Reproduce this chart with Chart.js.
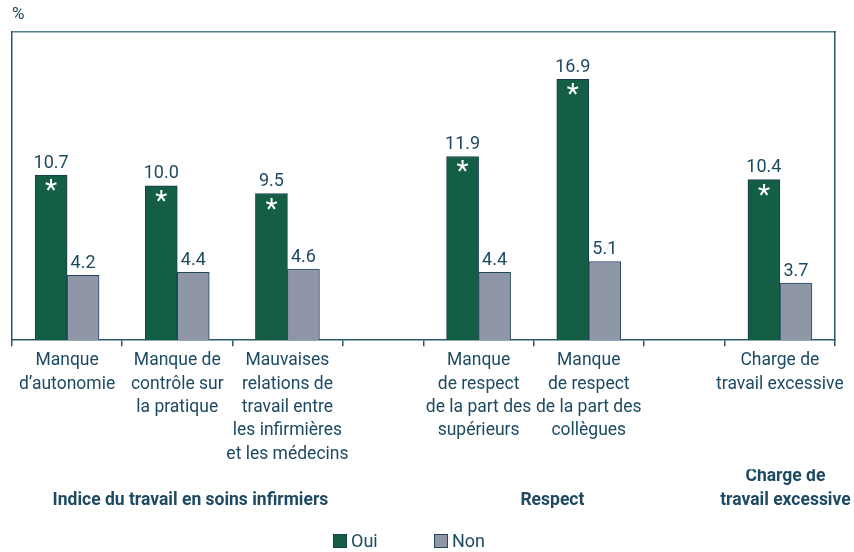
<!DOCTYPE html>
<html>
<head>
<meta charset="utf-8">
<script src="https://cdn.jsdelivr.net/npm/chart.js@4"></script>
<style>
  html, body { margin: 0; padding: 0; background: #fff; }
  canvas { display: block; }
</style>
</head>
<body>
<canvas id="chart" width="854" height="552"></canvas>
<script>
'use strict';

// ---- Data ----
const categories = [
  ['Manque', 'd\u2019autonomie'],
  ['Manque de', 'contrôle sur', 'la pratique'],
  ['Mauvaises', 'relations de', 'travail entre', 'les infirmières', 'et les médecins'],
  null,
  ['Manque', 'de respect', 'de la part des', 'supérieurs'],
  ['Manque', 'de respect', 'de la part des', 'collègues'],
  null,
  ['Charge de', 'travail excessive'],
];
const oui = [10.7, 10.0, 9.5, null, 11.9, 16.9, null, 10.4];
const non = [4.2, 4.4, 4.6, null, 4.4, 5.1, null, 3.7];
const groups = [
  ['', 'Indice du travail en soins infirmiers'],
  ['', 'Respect'],
  ['Charge de', 'travail excessive'],
];
const groupSpans = [[0, 2], [4, 5], [7, 7]];
const seriesNames = ['Oui', 'Non'];
const significant = [true, true, true, null, true, true, null, true];

// ---- Layout / style ----
const slotWidths = [1, 1, 1, 0.735, 1, 1, 0.735, 1];   // gap slots are narrower
const groupShift = [0.12, 0.17, 0.05];
const legendLeft = [333, 434];
const legendY = 541;
const FONT = "Roboto, 'Liberation Sans', sans-serif";
const COLORS = {
  green:  '#135e44',
  greenB: '#173f4c',
  grey:   '#8e96a8',
  greyB:  '#24475c',
  text:   '#1d4a62',
  axis:   '#2a586b',
  top:    '#4f7e8c',
};

const edges = [0];
slotWidths.forEach(w => edges.push(edges[edges.length - 1] + w));
const total = edges[edges.length - 1];
const centers = slotWidths.map((w, i) => edges[i] + w / 2);

const toPoints = arr => arr.map((v, i) => ({ x: centers[i], y: v, i })).filter(p => p.y !== null);

// value above each bar, white asterisk inside significant "Oui" bars
const valueLabels = {
  id: 'valueLabels',
  afterDatasetsDraw(chart) {
    const ctx = chart.ctx;
    ctx.save();
    ctx.textAlign = 'center';
    chart.data.datasets.forEach((ds, di) => {
      chart.getDatasetMeta(di).data.forEach((bar, j) => {
        const p = ds.data[j];
        ctx.fillStyle = COLORS.text;
        ctx.font = '18px ' + FONT;
        ctx.textBaseline = 'bottom';
        ctx.fillText(p.y.toFixed(1), bar.x, bar.y - 3);
        if (di === 0 && significant[p.i]) {
          ctx.fillStyle = '#ffffff';
          ctx.font = '28px ' + FONT;
          ctx.textBaseline = 'middle';
          ctx.fillText('*', bar.x, bar.y + 17);
        }
      });
    });
    ctx.restore();
  }
};

// simple bottom legend, items spaced like the original
const bottomLegend = {
  id: 'bottomLegend',
  afterDraw(chart) {
    const ctx = chart.ctx;
    ctx.save();
    ctx.font = '18px ' + FONT;
    ctx.textBaseline = 'middle';
    ctx.textAlign = 'left';
    chart.data.datasets.forEach((ds, i) => {
      const x = legendLeft[i];
      ctx.fillStyle = ds.backgroundColor;
      ctx.strokeStyle = ds.borderColor;
      ctx.lineWidth = 1;
      ctx.fillRect(x, legendY - 7, 14, 14);
      ctx.strokeRect(x + 0.5, legendY - 6.5, 13, 13);
      ctx.fillStyle = COLORS.text;
      ctx.fillText(ds.label, x + 18, legendY + 1);
    });
    ctx.restore();
  }
};

const hiddenTicks = { display: false };
const noGrid = { display: false, drawTicks: false };

new Chart(document.getElementById('chart'), {
  type: 'bar',
  data: {
    datasets: [
      {
        label: seriesNames[0],
        data: toPoints(oui),
        backgroundColor: COLORS.green,
        borderColor: COLORS.greenB,
        borderWidth: 1,
        barThickness: 32,
      },
      {
        label: seriesNames[1],
        data: toPoints(non),
        backgroundColor: COLORS.grey,
        borderColor: COLORS.greyB,
        borderWidth: 1,
        barThickness: 32,
      },
    ]
  },
  options: {
    responsive: false,
    animation: false,
    layout: { padding: { left: 12, right: 19, top: 2, bottom: 44 } },
    font: { family: FONT },
    plugins: {
      title: {
        display: true,
        text: '%',
        align: 'start',
        color: COLORS.text,
        font: { family: FONT, size: 17, weight: 'normal' },
        padding: { top: 3, bottom: 6 },
      },
      legend: { display: false },
      tooltip: { enabled: false },
    },
    scales: {
      x: {
        type: 'linear',
        position: 'bottom',
        min: 0,
        max: total,
        offset: false,
        afterBuildTicks: scale => {
          const t = edges.map(v => ({ value: v, edge: true }));
          categories.forEach((c, i) => { if (c) t.push({ value: centers[i], edge: false, idx: i }); });
          t.sort((a, b) => a.value - b.value);
          scale.ticks = t;
        },
        ticks: {
          autoSkip: false,
          maxRotation: 0,
          minRotation: 0,
          padding: 3,
          color: COLORS.text,
          font: { family: FONT, size: 17.5, lineHeight: 1.337 },
          callback: (v, i, ticks) => ticks[i].edge ? '' : categories[ticks[i].idx],
        },
        grid: {
          offset: false,
          drawOnChartArea: false,
          drawTicks: true,
          tickLength: 6,
          lineWidth: 1.5,
          color: ctx => (ctx.tick && ctx.tick.edge) ? COLORS.axis : 'rgba(0,0,0,0)',
        },
        border: { display: true, color: COLORS.axis, width: 1.5 },
      },
      xg: {
        type: 'linear',
        position: 'bottom',
        weight: 1,
        min: 0,
        max: total,
        offset: false,
        afterBuildTicks: scale => {
          scale.ticks = groupSpans.map((s, g) => ({
            value: (edges[s[0]] + edges[s[1] + 1]) / 2 + groupShift[g], g
          }));
        },
        ticks: {
          autoSkip: false,
          maxRotation: 0,
          minRotation: 0,
          padding: -4,
          color: COLORS.text,
          font: { family: FONT, size: 17.5, weight: 'bold', lineHeight: 1.337 },
          callback: (v, i, ticks) => groups[ticks[i].g],
        },
        grid: noGrid,
        border: { display: false },
      },
      xt: {
        type: 'linear',
        position: 'top',
        ticks: hiddenTicks,
        grid: noGrid,
        border: { display: true, color: COLORS.top, width: 1.5 },
      },
      y: {
        min: 0,
        max: 20,
        ticks: hiddenTicks,
        grid: noGrid,
        border: { display: true, color: COLORS.axis, width: 1.5 },
      },
      yr: {
        type: 'linear',
        position: 'right',
        ticks: hiddenTicks,
        grid: noGrid,
        border: { display: true, color: COLORS.axis, width: 1.5 },
      },
    }
  },
  plugins: [valueLabels, bottomLegend],
});
</script>
</body>
</html>
